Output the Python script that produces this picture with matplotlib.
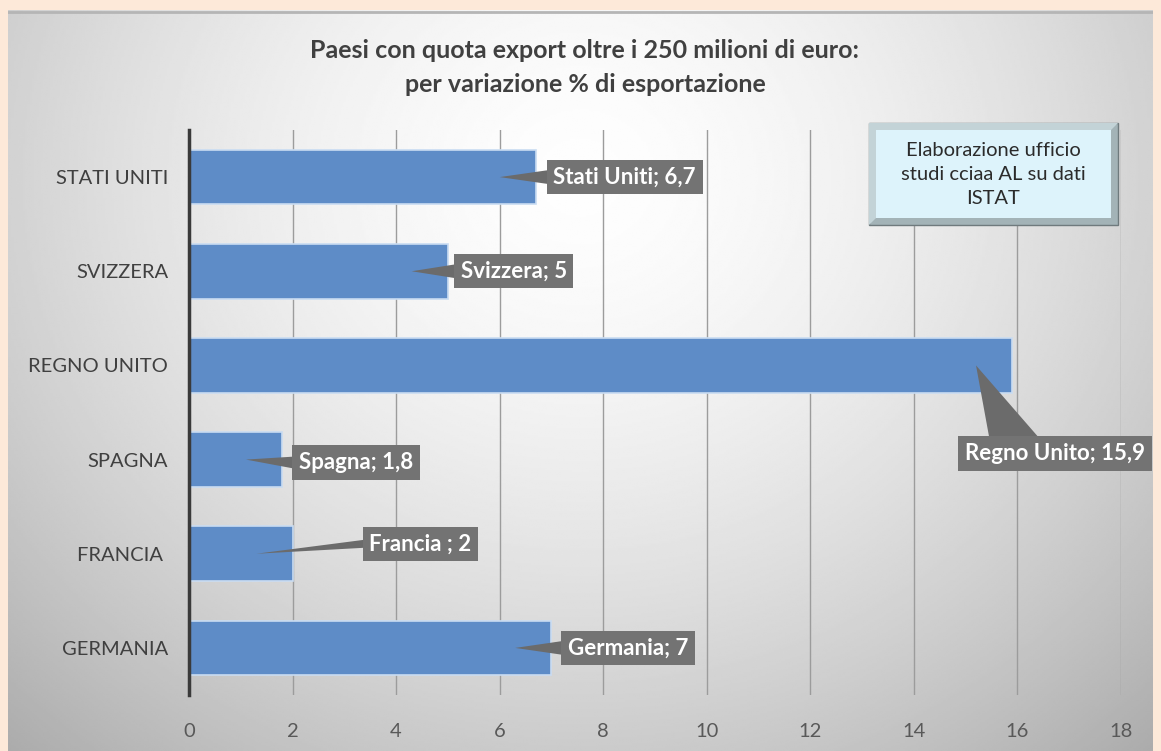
import numpy as np
import matplotlib.pyplot as plt
from matplotlib.patches import FancyBboxPatch, Polygon
from matplotlib.transforms import IdentityTransform

plt.rcParams['font.family'] = ['Lato', 'DejaVu Sans']

# data, bottom to top
paesi = ['GERMANIA', 'FRANCIA ', 'SPAGNA', 'REGNO UNITO', 'SVIZZERA', 'STATI UNITI']
nomi = ['Germania', 'Francia ', 'Spagna', 'Regno Unito', 'Svizzera', 'Stati Uniti']
variazione = [7, 2, 1.8, 15.9, 5, 6.7]
x_ticks = [0, 2, 4, 6, 8, 10, 12, 14, 16, 18]

# callout placement: offsets (pixels) from the tip, wedge half width, side of box
label_dx = [113, 164, 110, 79, 102, 125]
label_dy = [0, 10, -3, -88, 0, 0]
wedge_hw = [7, 4, 6, 25, 7, 7]
wedge_side = ['left', 'left', 'left', 'top', 'left', 'left']

W, H = 1161, 751
fig = plt.figure(figsize=(W / 100, H / 100), dpi=100, facecolor='#fde9d9')

# gradient panel
bg = fig.add_axes([8 / W, 0, 1145 / W, 741 / H])
gx = np.linspace(-1, 1, 500)
gy = np.linspace(-1, 1, 400)
X, Y = np.meshgrid(gx, gy)
R = np.sqrt(X ** 2 + ((Y + 0.55) / 1.4) ** 2)
shade = np.clip(0.995 - 0.17 * R ** 1.6, 0, 1)
bg.imshow(shade, cmap='gray', vmin=0, vmax=1, aspect='auto', extent=[0, 1, 0, 1],
          interpolation='bilinear')
bg.plot([0, 1], [0.997, 0.997], color='#b5b5b5', lw=2)
bg.set_xlim(0, 1)
bg.set_ylim(0, 1)
bg.axis('off')

ax = fig.add_axes([189 / W, 56 / H, 932 / W, 565 / H], facecolor='none')
ypos = np.arange(len(paesi))
ax.barh(ypos, variazione, height=0.58, color='#5e8cc7', edgecolor='#c9dcf2',
        linewidth=1.2, zorder=3)
ax.set_xlim(0, 18)
ax.set_ylim(-0.5, 5.5)
ax.set_xticks(x_ticks)
ax.set_xticklabels([str(t) for t in x_ticks])
ax.set_yticks(ypos)
ax.set_yticklabels(paesi)
ax.tick_params(axis='x', length=0, pad=20, labelsize=14.5, labelcolor='#595959')
ax.tick_params(axis='y', length=0, pad=15, labelsize=14.5, labelcolor='#404040')
ax.grid(axis='x', color='#9c9c9c', lw=1, zorder=1)
for s in ['top', 'right', 'bottom']:
    ax.spines[s].set_visible(False)
ax.spines['left'].set_color('#3a3a3a')
ax.spines['left'].set_linewidth(2.5)
ax.spines['left'].set_zorder(4)

labels = []
for i, v in enumerate(variazione):
    txt = f"{nomi[i]}; {v:g}".replace('.', ',')
    t = ax.annotate(txt, xy=(v - 0.7, i), xytext=(label_dx[i], label_dy[i]),
                    textcoords='offset pixels', ha='center', va='center',
                    color='white', fontsize=16, fontweight='bold', zorder=6,
                    bbox=dict(boxstyle='square,pad=0.3', fc='#737373', ec='none'))
    labels.append(t)

# callout wedges, built from the label boxes once they are laid out
fig.canvas.draw()
for i, t in enumerate(labels):
    bb = t.get_bbox_patch().get_window_extent()
    tip = ax.transData.transform((variazione[i] - 0.7, i))
    hw = wedge_hw[i]
    if wedge_side[i] == 'left':
        cy = (bb.y0 + bb.y1) / 2
        pts = [tip, (bb.x0 + 2, cy + hw), (bb.x0 + 2, cy - hw)]
    else:
        x0 = bb.x0 + 31
        pts = [tip, (x0, bb.y1 - 2), (x0 + 2 * hw, bb.y1 - 2)]
    ax.add_patch(Polygon(pts, closed=True, fc='#6b6b6b', ec='none',
                         transform=IdentityTransform(), zorder=5, clip_on=False))

fig.text(585 / W, 1 - 50 / H, 'Paesi con quota export oltre i 250 milioni di euro:',
         ha='center', va='center', fontsize=18, fontweight='bold', color='#404040')
fig.text(585 / W, 1 - 85 / H, 'per variazione % di esportazione',
         ha='center', va='center', fontsize=18, fontweight='bold', color='#404040')

box = FancyBboxPatch((869 / W, 1 - 225 / H), 249 / W, 102 / H,
                     boxstyle='square,pad=0', transform=fig.transFigure,
                     fc='#a3b3b7', ec='#6f7a7d', lw=1, zorder=6)
bevel = Polygon([(869 / W, 1 - 225 / H), (876 / W, 1 - 218 / H), (876 / W, 1 - 130 / H),
                 (1111 / W, 1 - 130 / H), (1118 / W, 1 - 123 / H), (869 / W, 1 - 123 / H)],
                closed=True, transform=fig.transFigure, fc='#c3d3d7', ec='none', zorder=6)
inner = FancyBboxPatch((876 / W, 1 - 218 / H), 235 / W, 88 / H,
                       boxstyle='square,pad=0', transform=fig.transFigure,
                       fc='#ddf3fb', ec='none', zorder=6)
fig.patches.extend([box, bevel, inner])
fig.text(993 / W, 1 - 175 / H, 'Elaborazione ufficio\nstudi cciaa AL su dati\nISTAT',
         ha='center', va='center', fontsize=14.5, color='#2b2b2b',
         linespacing=1.5, zorder=7)

fig.savefig('out.png', dpi=100, facecolor=fig.get_facecolor())
